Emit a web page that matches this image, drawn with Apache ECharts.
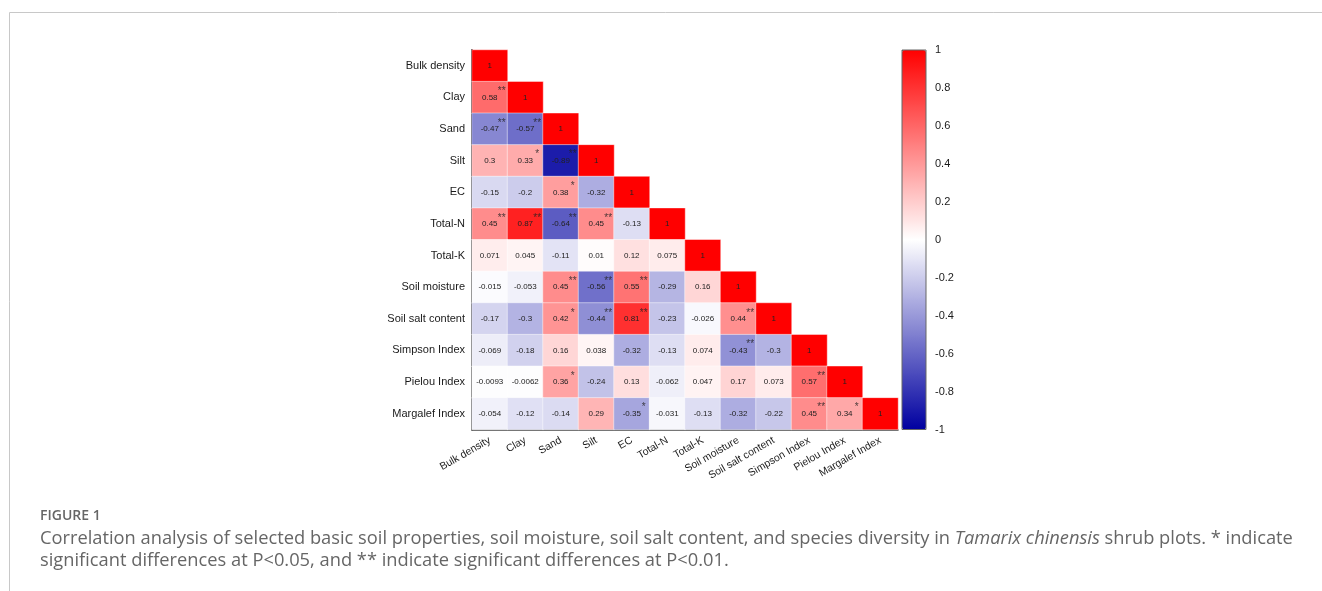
<!DOCTYPE html>
<html>
<head>
<meta charset="utf-8">
<script src="https://cdn.jsdelivr.net/npm/echarts@6/dist/echarts.min.js"></script>
<style>
  html, body { margin: 0; padding: 0; background: #ffffff; }
  #chart { width: 1322px; height: 591px; }
</style>
</head>
<body>
<div id="chart"></div>
<script>
// Variables in the correlation matrix (row / column order)
const variables = [
  'Bulk density', 'Clay', 'Sand', 'Silt', 'EC', 'Total-N', 'Total-K',
  'Soil moisture', 'Soil salt content', 'Simpson Index', 'Pielou Index', 'Margalef Index'
];

// Lower-triangle correlation coefficients, one row per variable
const corrRows = [
  [1],
  [0.58, 1],
  [-0.47, -0.57, 1],
  [0.3, 0.33, -0.89, 1],
  [-0.15, -0.2, 0.38, -0.32, 1],
  [0.45, 0.87, -0.64, 0.45, -0.13, 1],
  [0.071, 0.045, -0.11, 0.01, 0.12, 0.075, 1],
  [-0.015, -0.053, 0.45, -0.56, 0.55, -0.29, 0.16, 1],
  [-0.17, -0.3, 0.42, -0.44, 0.81, -0.23, -0.026, 0.44, 1],
  [-0.069, -0.18, 0.16, 0.038, -0.32, -0.13, 0.074, -0.43, -0.3, 1],
  [-0.0093, -0.0062, 0.36, -0.24, 0.13, -0.062, 0.047, 0.17, 0.073, 0.57, 1],
  [-0.054, -0.12, -0.14, 0.29, -0.35, -0.031, -0.13, -0.32, -0.22, 0.45, 0.34, 1]
];

// Significance marks (* P<0.05, ** P<0.01), same layout as corrRows
const sigRows = [
  [''],
  ['**', ''],
  ['**', '**', ''],
  ['', '*', '**', ''],
  ['', '', '*', '', ''],
  ['**', '**', '**', '**', '', ''],
  ['', '', '', '', '', '', ''],
  ['', '', '**', '**', '**', '', '', ''],
  ['', '', '*', '**', '**', '', '', '**', ''],
  ['', '', '', '', '', '', '', '**', '', ''],
  ['', '', '*', '', '', '', '', '', '', '**', ''],
  ['', '', '', '', '*', '', '', '', '', '**', '*', '']
];

// Colour scale range and tick step
const scaleMin = -1;
const scaleMax = 1;
const scaleStep = 0.2;

const cellData = [];
const starData = [];
corrRows.forEach((row, i) => {
  row.forEach((v, j) => {
    cellData.push([j, i, v]);
    const s = sigRows[i][j];
    if (s) starData.push([j, i, s]);
  });
});

const chart = echarts.init(document.getElementById('chart'), null, { renderer: 'canvas' });

const textColor = '#1a1a1a';
const fontFamily = 'Liberation Sans, Arial, sans-serif';
const captionFont = '"Open Sans", sans-serif';
const captionColor = '#666666';

chart.setOption({
  backgroundColor: '#ffffff',
  animation: false,
  grid: [
    { left: 472, top: 50, width: 426, height: 379.5 },
    { left: 902, top: 50, width: 24, height: 379.5, show: true, z: 10,
      backgroundColor: 'transparent', borderColor: '#666', borderWidth: 1 }
  ],
  xAxis: [
    {
      type: 'category', gridIndex: 0, data: variables, position: 'bottom',
      axisLine: { show: true, lineStyle: { color: '#333', width: 1.5 } },
      axisTick: { show: false },
      splitLine: { show: false },
      axisLabel: { interval: 0, rotate: 30, fontSize: 10.5, color: textColor, fontFamily: fontFamily, margin: 10 }
    },
    { type: 'value', gridIndex: 1, show: false, min: 0, max: 1 }
  ],
  yAxis: [
    {
      type: 'category', gridIndex: 0, data: variables, inverse: true,
      axisLine: { show: true, lineStyle: { color: '#333', width: 2 } },
      axisTick: { show: false },
      splitLine: { show: false },
      axisLabel: { fontSize: 11, color: textColor, fontFamily: fontFamily, margin: 7 }
    },
    {
      type: 'value', gridIndex: 1, position: 'right',
      min: scaleMin, max: scaleMax, interval: scaleStep,
      axisLine: { show: false },
      axisTick: { show: true, length: 5, lineStyle: { color: '#444', width: 1 } },
      splitLine: { show: false },
      axisLabel: { fontSize: 11, color: textColor, fontFamily: fontFamily, margin: 9 }
    }
  ],
  visualMap: {
    type: 'continuous',
    seriesIndex: 0,
    min: scaleMin, max: scaleMax,
    calculable: false,
    orient: 'vertical',
    left: 902, top: 50,
    itemWidth: 24, itemHeight: 379.5,
    padding: 0,
    inRange: { color: ['#0000a0', '#ffffff', '#ff0000'] }
  },
  series: [
    {
      type: 'heatmap',
      xAxisIndex: 0, yAxisIndex: 0,
      data: cellData,
      itemStyle: { borderColor: 'rgba(255,255,255,0.45)', borderWidth: 1 },
      label: {
        show: true, fontSize: 8, color: '#222', fontFamily: fontFamily,
        formatter: p => String(p.value[2])
      },
      emphasis: { disabled: true }
    },
    {
      type: 'scatter',
      xAxisIndex: 0, yAxisIndex: 0,
      data: starData,
      symbolSize: 1,
      itemStyle: { color: 'rgba(0,0,0,0)' },
      label: {
        show: true, position: 'inside', offset: [12, -6],
        fontSize: 10, color: '#222', fontFamily: fontFamily,
        formatter: p => p.value[2]
      },
      z: 5,
      silent: true
    }
  ],
  graphic: [
    { type: 'line', shape: { x1: 9.5, y1: 12.5, x2: 1322, y2: 12.5 }, style: { stroke: '#c8c8c8', lineWidth: 1 } },
    { type: 'line', shape: { x1: 9.5, y1: 12.5, x2: 9.5, y2: 591 }, style: { stroke: '#c8c8c8', lineWidth: 1 } },
    {
      type: 'text', left: 40, top: 509,
      style: { text: 'FIGURE 1', font: '600 14px "Open Sans", sans-serif', fill: captionColor }
    },
    {
      type: 'text', left: 40, top: 530,
      style: {
        text: '{n|Correlation analysis of selected basic soil properties, soil moisture, soil salt content, and species diversity in }{i|Tamarix chinensis}{n| shrub plots. * indicate}\n{n|significant differences at P<0.05, and ** indicate significant differences at P<0.01.}',
        fill: captionColor,
        rich: {
          n: { fontFamily: captionFont, fontSize: 18.3, fill: captionColor, lineHeight: 22 },
          i: { fontFamily: captionFont, fontSize: 18.3, fontStyle: 'italic', fill: captionColor, lineHeight: 22 }
        }
      }
    }
  ]
});
</script>
</body>
</html>
